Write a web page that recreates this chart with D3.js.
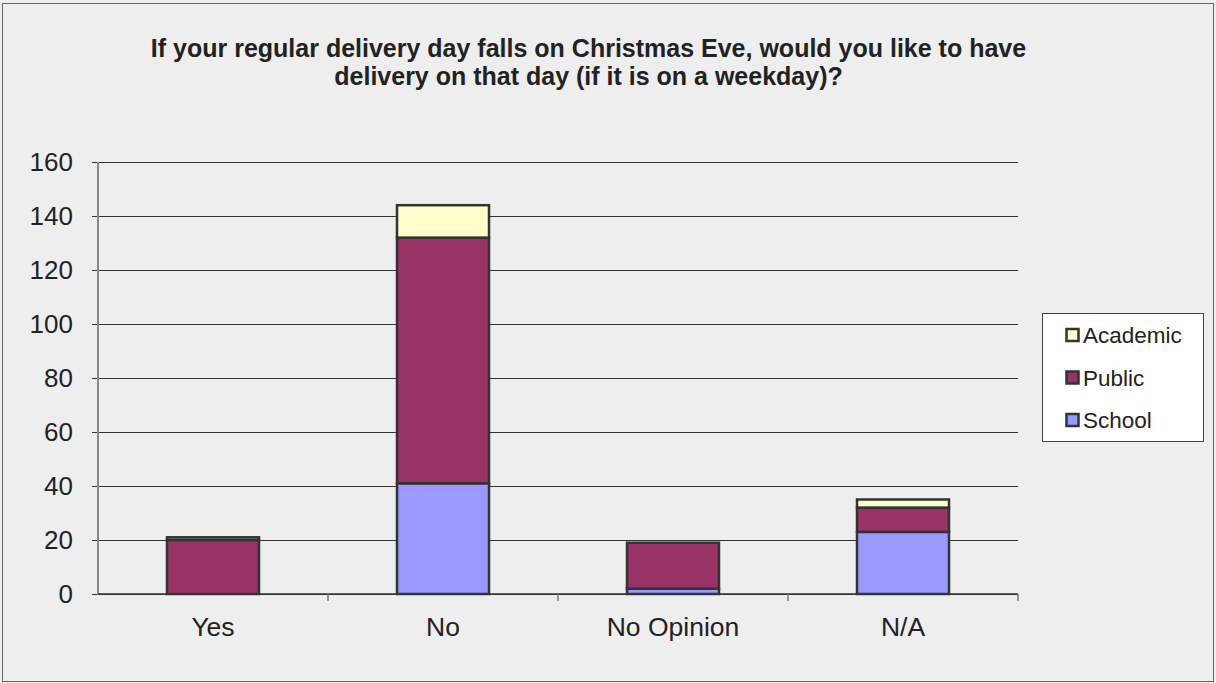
<!DOCTYPE html>
<html><head><meta charset="utf-8">
<script src="https://cdn.jsdelivr.net/npm/d3@7"></script>
<style>body{margin:0;background:#eeeeee;}svg{display:block;font-family:"Liberation Sans",Arial,sans-serif;}</style>
</head><body>
<svg id="c" width="1216" height="683"></svg>
<script>
const categories = ["Yes", "No", "No Opinion", "N/A"];
const seriesNames = ["School", "Public", "Academic"];
const school = [0, 41, 2, 23];
const publicLib = [20, 91, 17, 9];
const academic = [1, 12, 0, 3];
const yTicks = [0, 20, 40, 60, 80, 100, 120, 140, 160];
const colors = {School: "#9999ff", Public: "#993366", Academic: "#ffffcc"};
const titleLines = ["If your regular delivery day falls on Christmas Eve, would you like to have", "delivery on that day (if it is on a weekday)?"];

(function () {
const rows = categories.map((c, i) => ({cat: c, School: school[i], Public: publicLib[i], Academic: academic[i]}));
const stack = d3.stack().keys(seriesNames)(rows);

const svg = d3.select("#c");
svg.append("rect").attr("x", 2.5).attr("y", 3.5).attr("width", 1211).attr("height", 678)
  .attr("fill", "#eeeeee").attr("stroke", "#666").attr("stroke-width", 1);

const pL = 98, pR = 1018, pT = 162, pB = 594;
const x = d3.scaleBand().domain(categories).range([pL, pR]).paddingInner(0).paddingOuter(0);
const y = d3.scaleLinear().domain([0, 160]).range([pB, pT]);

// title
svg.append("g").selectAll("text").data(titleLines).join("text")
  .attr("x", 588.5).attr("y", (d, i) => 57 + i * 28)
  .attr("text-anchor", "middle").attr("font-size", 25).attr("font-weight", 600).attr("fill", "#222")
  .text(d => d);

// gridlines + y axis
const yAxis = d3.axisLeft(y).tickValues(yTicks).tickSize(-(pR - pL)).tickPadding(12);
const gy = svg.append("g").attr("transform", `translate(${pL},0)`).call(yAxis);
gy.select(".domain").remove();
gy.selectAll(".tick line").attr("stroke", "#333").attr("stroke-width", 1.2).attr("x1", -6);
gy.selectAll(".tick text").attr("font-size", 26).attr("fill", "#222").attr("font-family", "Liberation Sans, Arial, sans-serif").attr("x", -25);
svg.append("line").attr("x1", pL).attr("x2", pL).attr("y1", pT).attr("y2", pB + 1)
  .attr("stroke", "#888").attr("stroke-width", 2);

// x axis
const xTickPos = d3.scaleLinear().domain([0, categories.length]).range([pL, pR]);
const gx = svg.append("g");
gx.append("line").attr("x1", pL).attr("x2", pR).attr("y1", pB).attr("y2", pB).attr("stroke", "#333").attr("stroke-width", 1.5);
gx.selectAll("line.t").data(d3.range(1, categories.length + 1)).join("line").attr("class", "t")
  .attr("x1", d => xTickPos(d)).attr("x2", d => xTickPos(d)).attr("y1", pB).attr("y2", pB + 7)
  .attr("stroke", "#777").attr("stroke-width", 1.5);
gx.selectAll("text").data(categories).join("text")
  .attr("x", d => x(d) + x.bandwidth() / 2).attr("y", 636).attr("text-anchor", "middle")
  .attr("font-size", 26.5).attr("fill", "#222").text(d => d);

// bars
const bw = x.bandwidth() * 0.4;
svg.append("g").selectAll("g").data(stack).join("g")
  .attr("fill", d => colors[d.key])
  .selectAll("rect").data(d => d.filter(p => p[1] - p[0] > 0)).join("rect")
  .attr("x", d => x(d.data.cat) + (x.bandwidth() - bw) / 2)
  .attr("width", bw)
  .attr("y", d => y(d[1]))
  .attr("height", d => y(d[0]) - y(d[1]))
  .attr("stroke", "#333").attr("stroke-width", 2.5);

// legend
const lg = svg.append("g");
lg.append("rect").attr("x", 1042.5).attr("y", 313.5).attr("width", 161).attr("height", 128)
  .attr("fill", "#fff").attr("stroke", "#444").attr("stroke-width", 1);
const legendItems = ["Academic", "Public", "School"];
const li = lg.selectAll("g").data(legendItems).join("g")
  .attr("transform", (d, i) => `translate(1066,${335 + i * 42.5})`);
li.append("rect").attr("x", 0.5).attr("y", -6).attr("width", 12).attr("height", 12)
  .attr("fill", d => colors[d]).attr("stroke", "#333").attr("stroke-width", 2.5);
li.append("text").attr("x", 17).attr("y", 8).attr("font-size", 22.5).attr("fill", "#222").text(d => d);
})();
</script>
</body></html>
